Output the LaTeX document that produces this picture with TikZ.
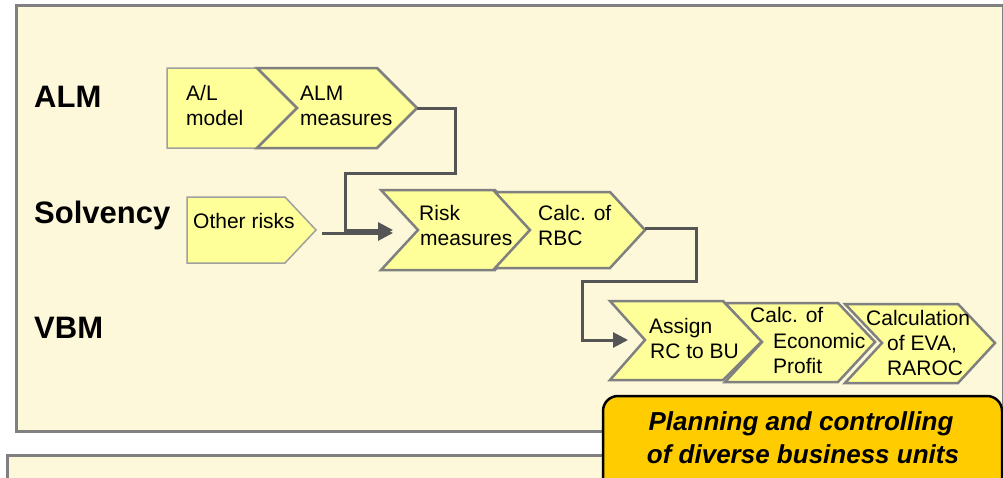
\documentclass[tikz,border=0pt]{standalone}
\usepackage{fontspec}
\setmainfont{Liberation Sans}
\usetikzlibrary{arrows.meta}
\definecolor{panelfill}{HTML}{FDF8D9}
\definecolor{panelline}{HTML}{808080}
\definecolor{stepfill}{HTML}{FFFF99}
\definecolor{stepline}{HTML}{808080}
\definecolor{softline}{HTML}{A0A0A0}
\definecolor{linkcol}{HTML}{555555}
\definecolor{goldfill}{HTML}{FFCC00}

\begin{document}
\begin{tikzpicture}[x=1pt,y=-1pt,
  panel/.style={fill=panelfill,draw=panelline,line width=3pt},
  stepshape/.style={fill=stepfill,draw=stepline,line width=2.5pt,line join=miter},
  softshape/.style={fill=stepfill,draw=softline,line width=1.5pt,line join=miter},
  steptext/.style={anchor=base west,inner sep=0pt,font=\fontsize{21}{25}\selectfont},
  rowlabel/.style={anchor=base west,inner sep=0pt,font=\fontsize{31}{36}\selectfont\bfseries},
  goaltext/.style={anchor=base,inner sep=0pt,font=\fontsize{26}{33}\selectfont\bfseries\itshape},
  link/.style={draw=linkcol,line width=3pt,-{Triangle[length=15pt,width=15pt]}},
  ]
\clip (0,0) rectangle (1003,477);
\fill[white] (0,0) rectangle (1003,477);

% background panels
\draw[panel] (7.5,455) rectangle (1020,500);
\draw[panel] (16.5,5) rectangle (1003.5,431);

% row labels
\node[rowlabel] (alm)  at (34,107) {ALM};
\node[rowlabel] (solv) at (34,223) {Solvency};
\node[rowlabel] (vbm)  at (34,338) {VBM};

% ALM row
\draw[softshape] (167,68) -- (257,68) -- (297,108) -- (257,148) -- (167,148) -- cycle;
\draw[stepshape] (257,68) -- (377,68) -- (417,108) -- (377,148) -- (257,148) -- (297,108) -- cycle;
\coordinate (almOut) at (417,108);

% Solvency row
\draw[softshape] (187,197) -- (285,197) -- (316,230) -- (285,263) -- (187,263) -- cycle;
\coordinate (otherOut) at (322,233);
\draw[stepshape] (381,190) -- (495,190) -- (530,230) -- (495,270) -- (381,270) -- (418,230) -- cycle;
\draw[stepshape] (495,192) -- (610,192) -- (645,230) -- (610,268) -- (495,268) -- (530,230) -- cycle;
\coordinate (riskInHigh) at (393,230);
\coordinate (riskInLow) at (393,233);
\coordinate (rbcOut) at (645,228);

% VBM row
\draw[stepshape] (610,301) -- (723,301) -- (762,341) -- (723,380) -- (610,380) -- (645,340) -- cycle;
\draw[stepshape] (725,303) -- (838,303) -- (875,342) -- (838,382) -- (725,382) -- (762,342) -- cycle;
\draw[stepshape] (845,304) -- (958,304) -- (995,343) -- (958,383) -- (845,383) -- (882,343) -- cycle;
\coordinate (assignIn) at (628,340);

% connectors
\draw[link] (almOut) -- (455,108) -- (455,173) -- (345,173) -- (345,230) -- (riskInHigh);
\draw[link] (otherOut) -- (riskInLow);
\draw[link] (rbcOut) -- (696,228) -- (696,281) -- (582,281) -- (582,340) -- (assignIn);

% step texts
\node[steptext] (al1) at (186,100) {A/L};
\node[steptext] (al2) at (186,125) {model};
\node[steptext] (am1) at (300,100) {ALM};
\node[steptext] (am2) at (300,125) {measures};
\node[steptext] (or1) at (193,228) {Other risks};
\node[steptext] (rm1) at (419,220) {Risk};
\node[steptext] (rm2) at (420,245) {measures};
\node[steptext] (rb1) at (538,220) {Calc. of};
\node[steptext] (rb2) at (538,245) {RBC};
\node[steptext] (as1) at (649,333) {Assign};
\node[steptext] (as2) at (650,358) {RC to BU};
\node[steptext] (ep1) at (750,322) {Calc. of};
\node[steptext] (ep2) at (773,348) {Economic};
\node[steptext] (ep3) at (773,373) {Profit};
\node[steptext] (ev1) at (866,325) {Calculation};
\node[steptext] (ev2) at (887,350) {of EVA,};
\node[steptext] (ev3) at (887,375) {RAROC};

% goal box
\draw[fill=goldfill,draw=black,line width=2.5pt,rounded corners=15pt] (603,396) rectangle (1002,520);
\node[goaltext] (goal1) at (801,430) {Planning and controlling};
\node[goaltext] (goal2) at (803,463) {of diverse business units};
\end{tikzpicture}
\end{document}
